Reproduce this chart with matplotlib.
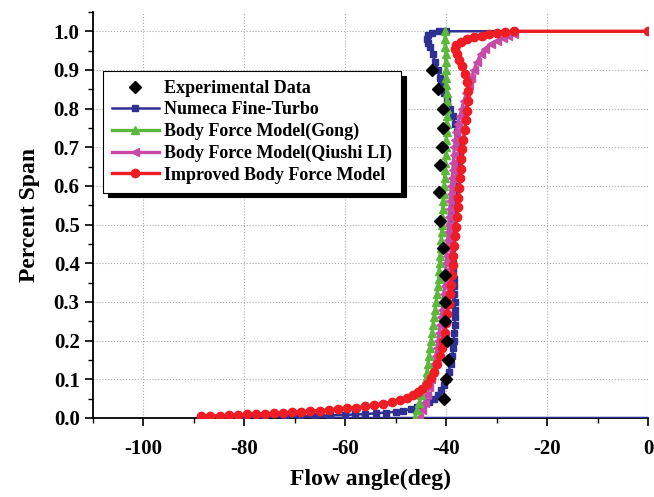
import matplotlib
matplotlib.use("Agg")
import matplotlib.pyplot as plt
from matplotlib.ticker import MultipleLocator

plt.rcParams['font.family'] = ['Liberation Serif', 'DejaVu Serif']
plt.rcParams['font.weight'] = 'bold'
plt.rcParams['axes.unicode_minus'] = False

# Experimental data
exp_x = [-40.4, -40.1, -39.7, -39.9, -40.2, -40.3, -40.3, -40.6, -41.2, -41.4, -41.3,
         -40.9, -40.6, -40.6, -41.6, -42.8]
exp_y = [0.05, 0.10, 0.15, 0.20, 0.25, 0.30, 0.37, 0.44, 0.51, 0.585, 0.655,
         0.70, 0.75, 0.80, 0.85, 0.90]

# Numeca Fine-Turbo
num_x = [0.0, -88.0, -80.0, -76.0, -72.0, -69.0, -66.0, -63.0, -60.0, -58.0, -56.0,
         -54.0, -52.0, -50.0, -48.5, -47.0, -45.8, -44.6, -43.5, -42.5, -41.7, -41.0,
         -40.4, -39.9, -39.5, -39.1, -38.8, -38.6, -38.5, -38.4, -38.3, -38.3, -38.3,
         -38.3, -38.4, -38.5, -38.5, -38.6, -38.7, -38.8, -38.9, -39.0, -39.1, -39.1,
         -39.0, -38.9, -38.7, -38.5, -38.3, -38.1, -37.8, -37.5, -37.3, -37.3, -37.5,
         -37.9, -38.3, -38.7, -39.3, -39.9, -40.5, -41.0, -41.3, -41.7, -42.2, -42.7,
         -43.3, -43.7, -43.9, -43.6, -42.8, -41.5, -40.0, 0.0]
num_y = [0.0, 0.0, 0.002, 0.003, 0.004, 0.005, 0.006, 0.007, 0.008, 0.009, 0.010,
         0.012, 0.014, 0.016, 0.019, 0.023, 0.028, 0.034, 0.041, 0.05, 0.06, 0.072,
         0.085, 0.10, 0.12, 0.14, 0.16, 0.18, 0.20, 0.22, 0.24, 0.26, 0.28,
         0.30, 0.32, 0.34, 0.36, 0.38, 0.40, 0.42, 0.44, 0.46, 0.48, 0.50,
         0.52, 0.54, 0.56, 0.58, 0.60, 0.62, 0.64, 0.66, 0.68, 0.70, 0.72,
         0.74, 0.76, 0.78, 0.80, 0.82, 0.84, 0.86, 0.88, 0.90, 0.92, 0.94,
         0.96, 0.97, 0.98, 0.99, 0.996, 1.0, 1.0, 1.0]

# Body Force Model (Gong)
gong_y = [0.0, 0.02, 0.04, 0.06, 0.08, 0.10, 0.12, 0.14, 0.16, 0.18, 0.20, 0.22, 0.24,
          0.26, 0.28, 0.30, 0.32, 0.34, 0.36, 0.38, 0.40, 0.42, 0.44, 0.46, 0.48, 0.50,
          0.52, 0.54, 0.56, 0.58, 0.60, 0.62, 0.64, 0.66, 0.68, 0.70, 0.72, 0.74, 0.76,
          0.78, 0.80, 0.82, 0.84, 0.86, 0.88, 0.90, 0.92, 0.94, 0.96, 0.98, 1.0]
gong_x = [-46.2, -45.8, -45.3, -44.9, -44.5, -44.1, -43.8, -43.6, -43.4, -43.2, -43.0,
          -42.8, -42.6, -42.4, -42.2, -42.0, -41.8, -41.6, -41.5, -41.4, -41.3, -41.2,
          -41.1, -41.0, -40.9, -40.9, -40.8, -40.7, -40.6, -40.5, -40.4, -40.3, -40.3,
          -40.2, -40.1, -40.0, -40.0, -39.9, -39.9, -39.9, -39.9, -39.9, -39.9, -40.0,
          -40.0, -40.0, -40.1, -40.1, -40.2, -40.2, -40.2]

# Body Force Model (Qiushi LI)
li_x = [-45.3, -44.8, -44.3, -43.8, -43.4, -43.0, -42.7, -42.4, -42.1, -41.8, -41.6,
        -41.4, -41.2, -41.0, -40.8, -40.6, -40.5, -40.3, -40.2, -40.1, -40.0, -39.9,
        -39.8, -39.7, -39.6, -39.5, -39.4, -39.3, -39.2, -39.1, -39.0, -38.8, -38.7,
        -38.6, -38.5, -38.4, -38.2, -38.0, -37.7, -37.3, -36.9, -36.5, -36.0, -35.5,
        -35.0, -34.5, -33.9, -33.2, -32.3, -31.2, -30.0, -28.8, -27.7, -26.6]
li_y = [0.0, 0.02, 0.04, 0.06, 0.08, 0.10, 0.12, 0.14, 0.16, 0.18, 0.20,
        0.22, 0.24, 0.26, 0.28, 0.30, 0.32, 0.34, 0.36, 0.38, 0.40, 0.42,
        0.44, 0.46, 0.48, 0.50, 0.52, 0.54, 0.56, 0.58, 0.60, 0.62, 0.64,
        0.66, 0.68, 0.70, 0.72, 0.74, 0.76, 0.78, 0.80, 0.82, 0.84, 0.86,
        0.88, 0.90, 0.92, 0.94, 0.955, 0.967, 0.976, 0.983, 0.988, 0.992]

# Improved Body Force Model
imp_x = [-88.5, -86.7, -84.9, -83.1, -81.3, -79.5, -77.7, -75.9, -74.1, -72.3, -70.5,
         -68.7, -66.9, -65.1, -63.3, -61.5, -59.7, -57.9, -56.1, -54.3, -52.5, -50.8,
         -49.2, -47.8, -46.6, -45.6, -44.7, -43.9, -43.1, -42.4, -41.8, -41.3, -40.9,
         -40.6, -40.3, -40.0, -39.8, -39.5, -39.3, -39.1, -38.9, -38.7, -38.6, -38.4,
         -38.2, -38.1, -37.9, -37.7, -37.6, -37.4, -37.3, -37.1, -37.0, -36.8, -36.6,
         -36.3, -36.1, -35.9, -35.7, -35.7, -35.9, -36.3, -36.8, -37.4, -37.9, -38.3,
         -38.0, -37.0, -35.9, -34.5, -33.0, -31.5, -30.0, -28.3, -26.6, 0.0]
imp_y = [0.004, 0.005, 0.006, 0.007, 0.008, 0.009, 0.010, 0.011, 0.012, 0.013, 0.015,
         0.016, 0.018, 0.019, 0.021, 0.023, 0.025, 0.027, 0.030, 0.033, 0.037, 0.041,
         0.046, 0.052, 0.059, 0.067, 0.076, 0.088, 0.103, 0.12, 0.14, 0.16, 0.18,
         0.20, 0.22, 0.245, 0.27, 0.295, 0.32, 0.345, 0.37, 0.395, 0.42, 0.445,
         0.47, 0.495, 0.52, 0.545, 0.57, 0.595, 0.62, 0.645, 0.67, 0.695, 0.72,
         0.745, 0.77, 0.795, 0.82, 0.845, 0.87, 0.89, 0.91, 0.925, 0.94, 0.955,
         0.965, 0.973, 0.98, 0.985, 0.989, 0.993, 0.995, 0.998, 1.0, 1.0]

fig = plt.figure(figsize=(6.54, 4.97), dpi=100)
ax = fig.add_axes([0.142, 0.159, 0.849, 0.817])

ax.plot(num_x, num_y, '-s', color='#2e3192', lw=1.8, ms=4,
        markevery=list(range(2, len(num_x) - 1)), label='Numeca Fine-Turbo', zorder=3)
ax.plot(gong_x, gong_y, '-^', color='#5cb83a', lw=2.4, ms=6,
        label='Body Force Model(Gong)', zorder=4)
ax.plot(li_x, li_y, '-<', color='#c64aa6', lw=2.4, ms=6,
        label='Body Force Model(Qiushi LI)', zorder=3)
ax.plot(imp_x, imp_y, '-o', color='#ee1c24', lw=2.4, ms=6,
        label='Improved Body Force Model', zorder=5)
ax.plot(exp_x, exp_y, 'D', color='black', ms=6.5, ls='none',
        label='Experimental Data', zorder=6)

ax.set_xlim(-110, 0)
ax.set_ylim(0, 1.05)
ax.xaxis.set_major_locator(MultipleLocator(20))
ax.xaxis.set_minor_locator(MultipleLocator(10))
ax.yaxis.set_major_locator(MultipleLocator(0.1))
ax.yaxis.set_minor_locator(MultipleLocator(0.05))
ax.yaxis.set_major_formatter(plt.FormatStrFormatter('%.1f'))

for s in ['top', 'right']:
    ax.spines[s].set_visible(False)
for s in ['left', 'bottom']:
    ax.spines[s].set_linewidth(1.3)

ax.tick_params(which='major', direction='out', length=6, width=1.2, labelsize=15)
ax.tick_params(axis='x', which='major', pad=9)
ax.tick_params(which='minor', direction='out', length=3.5, width=1.0)
for lab in ax.get_xticklabels() + ax.get_yticklabels():
    lab.set_fontweight('bold')

ax.grid(True, which='major', ls=':', color='#aaaaaa', lw=0.8)
ax.set_axisbelow(True)

ax.set_xlabel('Flow angle(deg)', fontsize=17, fontweight='bold', labelpad=7)
ax.set_ylabel('Percent Span', fontsize=17, fontweight='bold', labelpad=10)

h, l = ax.get_legend_handles_labels()
order = [4, 0, 1, 2, 3]
leg = ax.legend([h[i] for i in order], [l[i] for i in order],
                loc='upper left', bbox_to_anchor=(0.018, 0.855), borderaxespad=0,
                prop={'weight': 'bold', 'size': 13}, fancybox=False,
                shadow={'ox': 3.5, 'oy': -3.5, 'color': 'black', 'alpha': 1.0},
                edgecolor='black', framealpha=1, handlelength=2.6,
                handletextpad=0.3, labelspacing=0.25, borderpad=0.5)
leg.get_frame().set_linewidth(0.8)
leg.set_zorder(10)

fig.savefig('out.png', dpi=100)
